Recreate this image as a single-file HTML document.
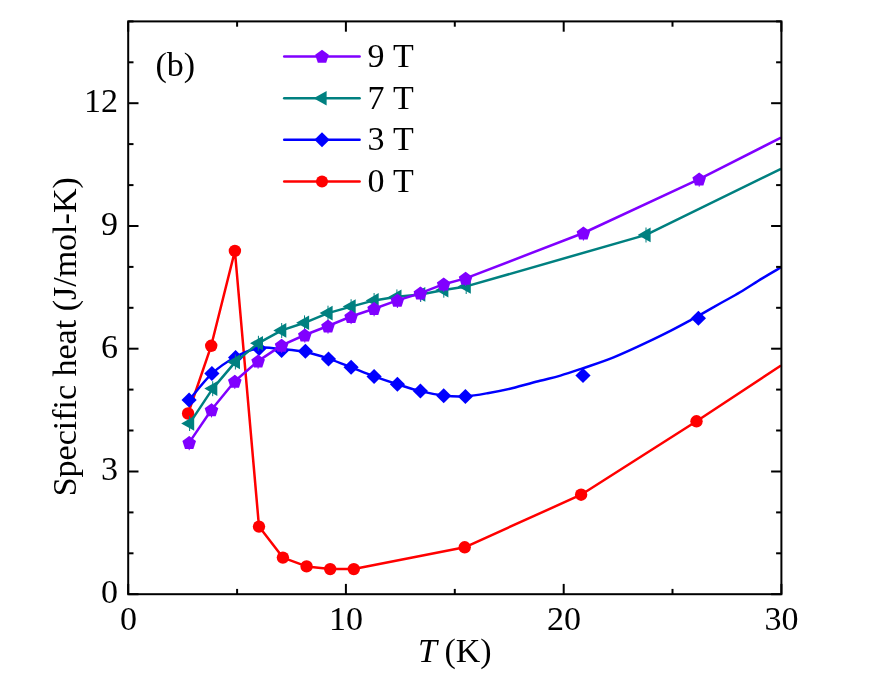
<!DOCTYPE html>
<html><head><meta charset="utf-8"><title>Specific heat</title>
<style>
html,body{margin:0;padding:0;background:#fff;}
body{width:880px;height:674px;overflow:hidden;}
svg{display:block;will-change:transform;}
text{font-family:"Liberation Serif",serif;fill:#000;font-variant-ligatures:none;font-kerning:none;}
</style></head><body>
<svg width="880" height="674" viewBox="0 0 880 674">
<rect width="880" height="674" fill="#fff"/>
<defs><clipPath id="cp"><rect x="128.2" y="21.4" width="654.2" height="572.8"/></clipPath></defs>

<g clip-path="url(#cp)" fill="none" stroke-linejoin="round" stroke-linecap="butt">
<polyline points="188.1,413.5 211.2,345.8 234.9,250.9 259.0,526.6 282.9,557.6 306.6,566.4 330.2,569.1 353.8,569.1 464.7,547.3 581.1,494.7 696.5,421.3 781.0,365.5" stroke="#ff0000" stroke-width="2.5"/>
</g>
<g fill="#ff0000">
<circle cx="188.1" cy="413.5" r="6.2"/>
<circle cx="211.2" cy="345.8" r="6.2"/>
<circle cx="234.9" cy="250.9" r="6.2"/>
<circle cx="259.0" cy="526.6" r="6.2"/>
<circle cx="282.9" cy="557.6" r="6.2"/>
<circle cx="306.6" cy="566.4" r="6.2"/>
<circle cx="330.2" cy="569.1" r="6.2"/>
<circle cx="353.8" cy="569.1" r="6.2"/>
<circle cx="464.7" cy="547.3" r="6.2"/>
<circle cx="581.1" cy="494.7" r="6.2"/>
<circle cx="696.5" cy="421.3" r="6.2"/>
</g>
<g clip-path="url(#cp)" fill="none" stroke-linejoin="round" stroke-linecap="butt">
<path d="M189.1,400.0 C192.9,395.6 204.2,380.8 211.9,373.6 C219.7,366.4 227.7,361.3 235.6,357.0 C243.5,352.7 251.4,349.3 259.1,348.0 C266.8,346.7 273.9,348.5 281.6,349.2 C289.3,349.9 297.6,350.4 305.4,352.0 C313.2,353.6 320.9,356.1 328.5,358.6 C336.1,361.2 343.5,364.3 351.1,367.3 C358.7,370.3 366.4,373.6 374.1,376.4 C381.8,379.2 389.7,381.8 397.4,384.2 C405.1,386.6 412.7,389.2 420.4,391.1 C428.1,393.0 436.2,394.6 443.7,395.5 C451.2,396.4 458.1,396.7 465.4,396.3 C472.7,395.9 479.7,394.6 487.5,393.2 C495.3,391.8 503.2,390.3 512.0,388.2 C520.8,386.1 531.9,382.9 540.0,380.8 C548.1,378.7 553.3,377.7 560.4,375.6 C567.5,373.5 573.6,371.4 582.5,368.4 C591.4,365.3 603.0,361.6 613.6,357.3 C624.2,353.0 636.8,347.1 646.3,342.6 C655.8,338.2 663.6,334.3 670.9,330.6 C678.2,326.9 685.7,322.8 690.3,320.3 C694.9,317.8 693.3,318.7 698.4,315.8 C703.5,312.9 714.0,306.9 720.9,303.0 C727.8,299.1 733.2,296.4 740.0,292.3 C746.8,288.2 755.0,282.8 761.8,278.6 C768.6,274.4 777.8,269.2 781.0,267.3" stroke="#0000ff" stroke-width="2.5"/>
</g>
<g fill="#0000ff">
<polygon points="181.5,400.0 189.1,392.5 196.7,400.0 189.1,407.5"/>
<polygon points="204.3,373.6 211.9,366.1 219.5,373.6 211.9,381.1"/>
<polygon points="228.0,357.4 235.6,349.9 243.2,357.4 235.6,364.9"/>
<polygon points="251.5,348.6 259.1,341.1 266.7,348.6 259.1,356.1"/>
<polygon points="274.0,350.4 281.6,342.9 289.2,350.4 281.6,357.9"/>
<polygon points="297.8,351.3 305.4,343.8 313.0,351.3 305.4,358.8"/>
<polygon points="320.9,358.9 328.5,351.4 336.1,358.9 328.5,366.4"/>
<polygon points="343.5,367.3 351.1,359.8 358.7,367.3 351.1,374.8"/>
<polygon points="366.5,376.4 374.1,368.9 381.7,376.4 374.1,383.9"/>
<polygon points="389.8,384.2 397.4,376.7 405.0,384.2 397.4,391.7"/>
<polygon points="412.8,391.1 420.4,383.6 428.0,391.1 420.4,398.6"/>
<polygon points="436.1,395.8 443.7,388.3 451.3,395.8 443.7,403.3"/>
<polygon points="457.8,396.6 465.4,389.1 473.0,396.6 465.4,404.1"/>
<polygon points="575.4,375.4 583.0,367.9 590.6,375.4 583.0,382.9"/>
<polygon points="690.8,318.3 698.4,310.8 706.0,318.3 698.4,325.8"/>
</g>
<g clip-path="url(#cp)" fill="none" stroke-linejoin="round" stroke-linecap="butt">
<polyline points="189.6,423.4 212.7,388.6 235.4,361.9 258.4,343.2 281.7,330.4 304.5,322.8 328.0,313.1 351.1,306.6 374.1,300.4 396.9,296.8 420.7,294.4 443.8,290.1 466.2,286.4 646.0,234.9 781.0,168.9" stroke="#008080" stroke-width="2.5"/>
</g>
<g fill="#008080" stroke="#008080" stroke-width="1">
<polygon stroke="none" points="181.2,423.4 194.2,416.1 194.2,430.7"/>
<line x1="189.6" y1="416.0" x2="189.6" y2="431.0"/>
<polygon stroke="none" points="204.3,388.6 217.3,381.3 217.3,395.9"/>
<line x1="212.7" y1="381.2" x2="212.7" y2="396.2"/>
<polygon stroke="none" points="227.0,361.9 240.0,354.6 240.0,369.2"/>
<line x1="235.4" y1="354.5" x2="235.4" y2="369.5"/>
<polygon stroke="none" points="250.0,343.2 263.0,335.9 263.0,350.5"/>
<line x1="258.4" y1="335.8" x2="258.4" y2="350.8"/>
<polygon stroke="none" points="273.3,330.4 286.3,323.1 286.3,337.7"/>
<line x1="281.7" y1="323.0" x2="281.7" y2="338.0"/>
<polygon stroke="none" points="296.1,322.8 309.1,315.5 309.1,330.1"/>
<line x1="304.5" y1="315.4" x2="304.5" y2="330.4"/>
<polygon stroke="none" points="319.6,313.1 332.6,305.8 332.6,320.4"/>
<line x1="328.0" y1="305.7" x2="328.0" y2="320.7"/>
<polygon stroke="none" points="342.7,306.6 355.7,299.3 355.7,313.9"/>
<line x1="351.1" y1="299.2" x2="351.1" y2="314.2"/>
<polygon stroke="none" points="365.7,300.4 378.7,293.1 378.7,307.7"/>
<line x1="374.1" y1="293.0" x2="374.1" y2="308.0"/>
<polygon stroke="none" points="388.5,296.8 401.5,289.5 401.5,304.1"/>
<line x1="396.9" y1="289.4" x2="396.9" y2="304.4"/>
<polygon stroke="none" points="412.3,294.4 425.3,287.1 425.3,301.7"/>
<line x1="420.7" y1="287.0" x2="420.7" y2="302.0"/>
<polygon stroke="none" points="435.4,290.1 448.4,282.8 448.4,297.4"/>
<line x1="443.8" y1="282.7" x2="443.8" y2="297.7"/>
<polygon stroke="none" points="457.8,286.4 470.8,279.1 470.8,293.7"/>
<line x1="466.2" y1="279.0" x2="466.2" y2="294.0"/>
<polygon stroke="none" points="637.6,234.9 650.6,227.6 650.6,242.2"/>
<line x1="646.0" y1="227.5" x2="646.0" y2="242.5"/>
</g>
<g clip-path="url(#cp)" fill="none" stroke-linejoin="round" stroke-linecap="butt">
<polyline points="189.2,442.6 211.5,409.8 234.8,381.3 258.1,361.1 281.6,345.4 304.8,335.0 328.0,326.0 351.1,316.5 374.1,308.7 397.4,300.4 420.4,293.2 443.7,284.2 465.6,278.4 583.4,233.0 699.2,179.1 781.0,137.6" stroke="#8000ff" stroke-width="2.5"/>
</g>
<g fill="#8000ff" stroke="#8000ff" stroke-width="1">
<polygon stroke="none" points="189.2,436.0 196.0,441.0 193.4,449.0 185.0,449.0 182.4,441.0"/>
<line x1="189.2" y1="436.6" x2="189.2" y2="450.2"/>
<polygon stroke="none" points="211.5,403.2 218.3,408.2 215.7,416.2 207.3,416.2 204.7,408.2"/>
<line x1="211.5" y1="403.8" x2="211.5" y2="417.4"/>
<polygon stroke="none" points="234.8,374.7 241.6,379.7 239.0,387.7 230.6,387.7 228.0,379.7"/>
<line x1="234.8" y1="375.3" x2="234.8" y2="388.9"/>
<polygon stroke="none" points="258.1,354.5 264.9,359.5 262.3,367.5 253.9,367.5 251.3,359.5"/>
<line x1="258.1" y1="355.1" x2="258.1" y2="368.7"/>
<polygon stroke="none" points="281.6,338.8 288.4,343.8 285.8,351.8 277.4,351.8 274.8,343.8"/>
<line x1="281.6" y1="339.4" x2="281.6" y2="353.0"/>
<polygon stroke="none" points="304.8,328.4 311.6,333.4 309.0,341.4 300.6,341.4 298.0,333.4"/>
<line x1="304.8" y1="329.0" x2="304.8" y2="342.6"/>
<polygon stroke="none" points="328.0,319.4 334.8,324.4 332.2,332.4 323.8,332.4 321.2,324.4"/>
<line x1="328.0" y1="320.0" x2="328.0" y2="333.6"/>
<polygon stroke="none" points="351.1,309.9 357.9,314.9 355.3,322.9 346.9,322.9 344.3,314.9"/>
<line x1="351.1" y1="310.5" x2="351.1" y2="324.1"/>
<polygon stroke="none" points="374.1,302.1 380.9,307.1 378.3,315.1 369.9,315.1 367.3,307.1"/>
<line x1="374.1" y1="302.7" x2="374.1" y2="316.3"/>
<polygon stroke="none" points="397.4,293.8 404.2,298.8 401.6,306.8 393.2,306.8 390.6,298.8"/>
<line x1="397.4" y1="294.4" x2="397.4" y2="308.0"/>
<polygon stroke="none" points="420.4,286.6 427.2,291.6 424.6,299.6 416.2,299.6 413.6,291.6"/>
<line x1="420.4" y1="287.2" x2="420.4" y2="300.8"/>
<polygon stroke="none" points="443.7,277.6 450.5,282.6 447.9,290.6 439.5,290.6 436.9,282.6"/>
<line x1="443.7" y1="278.2" x2="443.7" y2="291.8"/>
<polygon stroke="none" points="465.6,271.8 472.4,276.8 469.8,284.8 461.4,284.8 458.8,276.8"/>
<line x1="465.6" y1="272.4" x2="465.6" y2="286.0"/>
<polygon stroke="none" points="583.4,226.4 590.2,231.4 587.6,239.4 579.2,239.4 576.6,231.4"/>
<line x1="583.4" y1="227.0" x2="583.4" y2="240.6"/>
<polygon stroke="none" points="699.2,172.5 706.0,177.5 703.4,185.5 695.0,185.5 692.4,177.5"/>
<line x1="699.2" y1="173.1" x2="699.2" y2="186.7"/>
</g>
<g stroke="#000" stroke-width="2.0" fill="none" stroke-linecap="butt">
<rect x="128.2" y="21.4" width="653.2" height="572.8000000000001"/>
<line x1="128.2" y1="594.2" x2="128.2" y2="583.9000000000001"/>
<line x1="128.2" y1="21.4" x2="128.2" y2="31.7"/>
<line x1="237.1" y1="594.2" x2="237.1" y2="588.9000000000001"/>
<line x1="237.1" y1="21.4" x2="237.1" y2="26.7"/>
<line x1="345.9" y1="594.2" x2="345.9" y2="583.9000000000001"/>
<line x1="345.9" y1="21.4" x2="345.9" y2="31.7"/>
<line x1="454.8" y1="594.2" x2="454.8" y2="588.9000000000001"/>
<line x1="454.8" y1="21.4" x2="454.8" y2="26.7"/>
<line x1="563.7" y1="594.2" x2="563.7" y2="583.9000000000001"/>
<line x1="563.7" y1="21.4" x2="563.7" y2="31.7"/>
<line x1="672.5" y1="594.2" x2="672.5" y2="588.9000000000001"/>
<line x1="672.5" y1="21.4" x2="672.5" y2="26.7"/>
<line x1="781.4" y1="594.2" x2="781.4" y2="583.9000000000001"/>
<line x1="781.4" y1="21.4" x2="781.4" y2="31.7"/>
<line x1="128.2" y1="594.2" x2="138.5" y2="594.2"/>
<line x1="781.4" y1="594.2" x2="771.1" y2="594.2"/>
<line x1="128.2" y1="553.3" x2="133.5" y2="553.3"/>
<line x1="781.4" y1="553.3" x2="776.1" y2="553.3"/>
<line x1="128.2" y1="512.4" x2="133.5" y2="512.4"/>
<line x1="781.4" y1="512.4" x2="776.1" y2="512.4"/>
<line x1="128.2" y1="471.5" x2="138.5" y2="471.5"/>
<line x1="781.4" y1="471.5" x2="771.1" y2="471.5"/>
<line x1="128.2" y1="430.5" x2="133.5" y2="430.5"/>
<line x1="781.4" y1="430.5" x2="776.1" y2="430.5"/>
<line x1="128.2" y1="389.6" x2="133.5" y2="389.6"/>
<line x1="781.4" y1="389.6" x2="776.1" y2="389.6"/>
<line x1="128.2" y1="348.7" x2="138.5" y2="348.7"/>
<line x1="781.4" y1="348.7" x2="771.1" y2="348.7"/>
<line x1="128.2" y1="307.8" x2="133.5" y2="307.8"/>
<line x1="781.4" y1="307.8" x2="776.1" y2="307.8"/>
<line x1="128.2" y1="266.9" x2="133.5" y2="266.9"/>
<line x1="781.4" y1="266.9" x2="776.1" y2="266.9"/>
<line x1="128.2" y1="226.0" x2="138.5" y2="226.0"/>
<line x1="781.4" y1="226.0" x2="771.1" y2="226.0"/>
<line x1="128.2" y1="185.1" x2="133.5" y2="185.1"/>
<line x1="781.4" y1="185.1" x2="776.1" y2="185.1"/>
<line x1="128.2" y1="144.1" x2="133.5" y2="144.1"/>
<line x1="781.4" y1="144.1" x2="776.1" y2="144.1"/>
<line x1="128.2" y1="103.2" x2="138.5" y2="103.2"/>
<line x1="781.4" y1="103.2" x2="771.1" y2="103.2"/>
<line x1="128.2" y1="62.3" x2="133.5" y2="62.3"/>
<line x1="781.4" y1="62.3" x2="776.1" y2="62.3"/>
<line x1="128.2" y1="21.4" x2="133.5" y2="21.4"/>
<line x1="781.4" y1="21.4" x2="776.1" y2="21.4"/>
</g>
<g font-size="34">
<text x="128.4" y="630.2" text-anchor="middle">0</text>
<text x="346.1" y="630.2" text-anchor="middle">10</text>
<text x="563.9" y="630.2" text-anchor="middle">20</text>
<text x="781.6" y="630.2" text-anchor="middle">30</text>
<text x="118.1" y="603.1" text-anchor="end">0</text>
<text x="118.1" y="480.4" text-anchor="end">3</text>
<text x="118.1" y="357.6" text-anchor="end">6</text>
<text x="118.1" y="234.9" text-anchor="end">9</text>
<text x="118.1" y="112.1" text-anchor="end">12</text>
<text x="418.1" y="661.7" font-style="italic">T</text><text x="444.4" y="661.7">(K)</text>
<text transform="translate(76.1,336.8) rotate(-90)" text-anchor="middle">Specific heat (J/mol-K)</text>
<text x="155.5" y="75.6">(b)</text>
<text x="367.6" y="67.0">9 T</text>
<text x="367.6" y="108.8">7 T</text>
<text x="367.6" y="150.4">3 T</text>
<text x="367.6" y="192.0">0 T</text>
</g>
<line x1="284.2" y1="56.4" x2="359.6" y2="56.4" stroke="#8000ff" stroke-width="2.5" stroke-linecap="round"/>
<line x1="284.2" y1="98.2" x2="359.6" y2="98.2" stroke="#008080" stroke-width="2.5" stroke-linecap="round"/>
<line x1="284.2" y1="139.8" x2="359.6" y2="139.8" stroke="#0000ff" stroke-width="2.5" stroke-linecap="round"/>
<line x1="284.2" y1="181.4" x2="359.6" y2="181.4" stroke="#ff0000" stroke-width="2.5" stroke-linecap="round"/>
<polygon fill="#8000ff" points="322.0,49.8 328.8,54.8 326.2,62.8 317.8,62.8 315.2,54.8"/>
<polygon fill="#008080" points="313.6,98.2 326.6,90.9 326.6,105.5"/>
<polygon fill="#0000ff" points="314.4,139.8 322.0,132.3 329.6,139.8 322.0,147.3"/>
<circle fill="#ff0000" cx="322.0" cy="181.4" r="6.0"/>
</svg></body></html>
